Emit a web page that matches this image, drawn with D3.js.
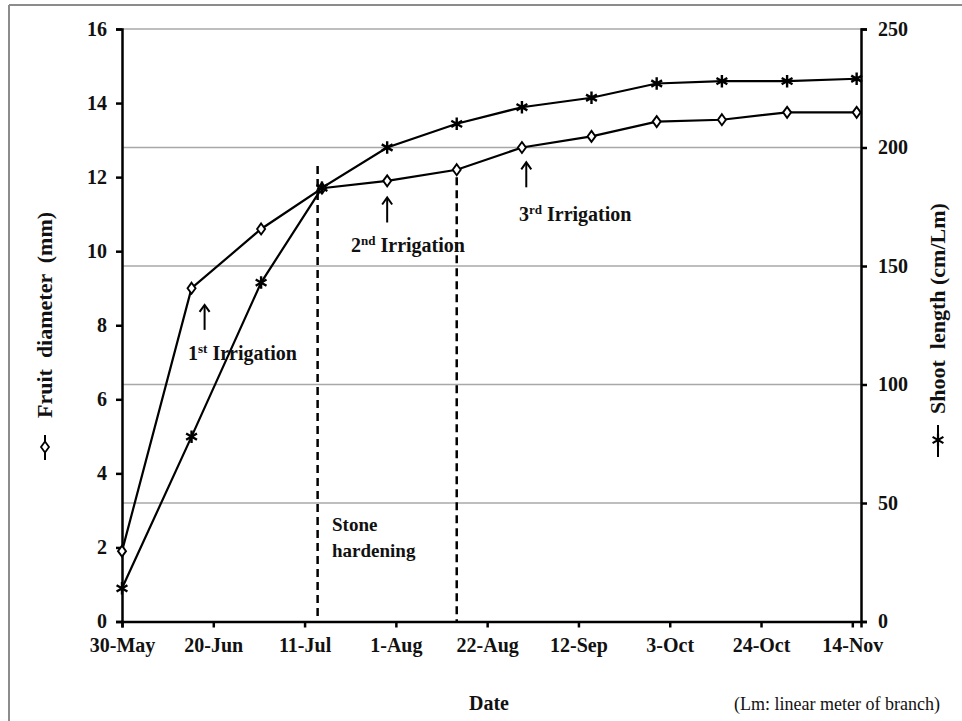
<!DOCTYPE html>
<html>
<head>
<meta charset="utf-8">
<script src="https://cdn.jsdelivr.net/npm/d3@7"></script>
<style>
  html, body { margin: 0; padding: 0; background: #fff; }
  svg { display: block; font-family: "Liberation Serif", "Times New Roman", serif; }
</style>
</head>
<body>
<svg id="chart" width="962" height="721"></svg>
<script>
// ---------- data ----------
const year = 2011;
const dates = ["30-May","15-Jun","1-Jul","15-Jul","30-Jul","15-Aug","30-Aug","15-Sep","30-Sep","15-Oct","30-Oct","15-Nov"];
const fruitDiameter = [1.9, 9.0, 10.6, 11.7, 11.9, 12.2, 12.8, 13.1, 13.5, 13.55, 13.75, 13.75];
const shootLength = [14, 78, 143, 183, 200, 210, 217, 221, 227, 228, 228, 229];
const xTickLabels = ["30-May","20-Jun","11-Jul","1-Aug","22-Aug","12-Sep","3-Oct","24-Oct","14-Nov"];
const xDomainLabels = ["30-May","16-Nov"];
const leftTicks = [0, 2, 4, 6, 8, 10, 12, 14, 16];
const rightTicks = [0, 50, 100, 150, 200, 250];
// stone hardening period (dates and top value on the left axis)
const stoneDates = ["14-Jul", "15-Aug"];
const stoneTops = [12.3, 12.0];
// irrigation arrows: date, arrow tip value (left axis), ordinal label
const irrigDates = ["18-Jun", "30-Jul", "31-Aug"];
const irrigTips = [8.55, 11.45, 12.4];
const irrigNums = ["1", "2", "3"];
const irrigSups = ["st", "nd", "rd"];

// ---------- setup ----------
const parse = d3.timeParse("%d-%b-%Y");
const P = s => parse(s + "-" + year);
const svg = d3.select("#chart");

const x = d3.scaleTime().domain(xDomainLabels.map(P)).range([122, 861]);
const yL = d3.scaleLinear().domain([0, 16]).range([621.5, 29]);
const yR = d3.scaleLinear().domain([0, 250]).range([621.5, 29]);

// frame
svg.append("line").attr("x1", 9).attr("x2", 962).attr("y1", 5).attr("y2", 5)
  .attr("stroke", "#8c8c8c").attr("stroke-width", 2);
svg.append("line").attr("x1", 9).attr("x2", 9).attr("y1", 5).attr("y2", 721)
  .attr("stroke", "#8c8c8c").attr("stroke-width", 2);

// gridlines (right axis)
svg.append("g").selectAll("line").data(rightTicks.filter(d => d > 0)).join("line")
  .attr("x1", x.range()[0]).attr("x2", x.range()[1])
  .attr("y1", d => yR(d)).attr("y2", d => yR(d))
  .attr("stroke", "#a8a8a8").attr("stroke-width", 1.6);

// stone hardening dashed lines
svg.append("g").selectAll("line").data(stoneDates).join("line")
  .attr("x1", d => x(P(d))).attr("x2", d => x(P(d)))
  .attr("y1", (d, i) => yL(stoneTops[i])).attr("y2", yL(0))
  .attr("stroke", "#000").attr("stroke-width", 2.5).attr("stroke-dasharray", "8,5");

// axes
const fontTick = 20;
const gx = svg.append("g").attr("transform", `translate(0,${yL(0)})`)
  .call(d3.axisBottom(x).tickValues(xTickLabels.map(P)).tickFormat(d3.timeFormat("%-d-%b")).tickSizeOuter(0).tickSize(6).tickPadding(10));
const gl = svg.append("g").attr("transform", `translate(${x.range()[0]},0)`)
  .call(d3.axisLeft(yL).tickValues(leftTicks).tickSizeOuter(0).tickSize(6).tickPadding(9));
const gr = svg.append("g").attr("transform", `translate(${x.range()[1]},0)`)
  .call(d3.axisRight(yR).tickValues(rightTicks).tickSizeOuter(0).tickSize(6).tickPadding(11));
[gx, gl, gr].forEach(g => {
  g.attr("font-family", "Liberation Serif");
  g.selectAll("path.domain").attr("stroke", "#000").attr("stroke-width", 2.5);
  g.selectAll(".tick line").attr("stroke", "#000").attr("stroke-width", 2.5);
  g.selectAll("text").attr("font-size", fontTick).attr("font-weight", "bold")
    .attr("fill", "#111").attr("font-family", "Liberation Serif");
});

// lines
const line = (ys, vals) => d3.line().x((d, i) => x(P(dates[i]))).y((d, i) => ys(vals[i]));
svg.append("path").datum(dates).attr("d", line(yL, fruitDiameter)(dates))
  .attr("fill", "none").attr("stroke", "#000").attr("stroke-width", 2.2);
svg.append("path").datum(dates).attr("d", line(yR, shootLength)(dates))
  .attr("fill", "none").attr("stroke", "#000").attr("stroke-width", 2.2);

// markers
const diamondPath = "M0,-5.5L4,0L0,5.5L-4,0Z";
svg.append("g").selectAll("path").data(dates).join("path")
  .attr("transform", (d, i) => `translate(${x(P(d))},${yL(fruitDiameter[i])})`)
  .attr("d", diamondPath).attr("fill", "#fff").attr("stroke", "#000").attr("stroke-width", 1.9);
const star = d3.symbol().type(d3.symbolAsterisk).size(110);
svg.append("g").selectAll("path").data(dates).join("path")
  .attr("transform", (d, i) => `translate(${x(P(d))},${yR(shootLength[i])})`)
  .attr("d", star()).attr("fill", "none").attr("stroke", "#000").attr("stroke-width", 2.4);

// irrigation arrows
const ann = svg.append("g");
irrigDates.forEach((d, i) => {
  const ax = x(P(d)), ay = yL(irrigTips[i]);
  ann.append("line").attr("x1", ax).attr("x2", ax).attr("y1", ay + 1).attr("y2", ay + 25)
    .attr("stroke", "#000").attr("stroke-width", 2);
  ann.append("path").attr("d", `M${ax - 5},${ay + 7}L${ax},${ay}L${ax + 5},${ay + 7}`)
    .attr("fill", "none").attr("stroke", "#000").attr("stroke-width", 2);
});
// irrigation labels
const irrigLabelPos = [[188, 360], [351, 252], [519, 221]];
irrigNums.forEach((n, i) => {
  const t = ann.append("text").attr("x", irrigLabelPos[i][0]).attr("y", irrigLabelPos[i][1])
    .attr("font-size", 20).attr("font-weight", "bold").attr("fill", "#111");
  t.append("tspan").text(n);
  t.append("tspan").text(irrigSups[i]).attr("font-size", 13).attr("dy", -7);
  t.append("tspan").text(" Irrigation").attr("dy", 7);
});
// stone hardening label
const st = ann.append("text").attr("font-size", 19).attr("font-weight", "bold").attr("fill", "#111");
st.append("tspan").attr("x", 332).attr("y", 531).text("Stone");
st.append("tspan").attr("x", 332).attr("y", 557).text("hardening");

// axis titles
const lt = svg.append("g").attr("transform", "translate(52,418) rotate(-90)");
lt.append("text").attr("x", 0).attr("y", 0).attr("font-size", 22).attr("font-weight", "bold")
  .attr("fill", "#111").attr("xml:space", "preserve").text("Fruit  diameter  (mm)");
const lm = svg.append("g").attr("transform", "translate(45,447)");
lm.append("line").attr("x1", 0).attr("x2", 0).attr("y1", -12).attr("y2", 13).attr("stroke", "#000").attr("stroke-width", 2);
lm.append("path").attr("d", diamondPath).attr("fill", "#fff").attr("stroke", "#000").attr("stroke-width", 1.8);

const rt = svg.append("g").attr("transform", "translate(945,414) rotate(-90)");
rt.append("text").attr("x", 0).attr("y", 0).attr("font-size", 22).attr("font-weight", "bold")
  .attr("fill", "#111").attr("xml:space", "preserve").text("Shoot  length (cm/Lm)");
const rm = svg.append("g").attr("transform", "translate(938,440)");
rm.append("line").attr("x1", 0).attr("x2", 0).attr("y1", -15).attr("y2", 17).attr("stroke", "#000").attr("stroke-width", 2);
rm.append("path").attr("d", star()).attr("fill", "none").attr("stroke", "#000").attr("stroke-width", 2.2);

svg.append("text").attr("x", 489).attr("y", 710).attr("text-anchor", "middle")
  .attr("font-size", 20).attr("font-weight", "bold").attr("fill", "#111").text("Date");
svg.append("text").attr("x", 940).attr("y", 710).attr("text-anchor", "end")
  .attr("font-size", 18).attr("fill", "#111").text("(Lm: linear meter of branch)");
</script>
</body>
</html>
